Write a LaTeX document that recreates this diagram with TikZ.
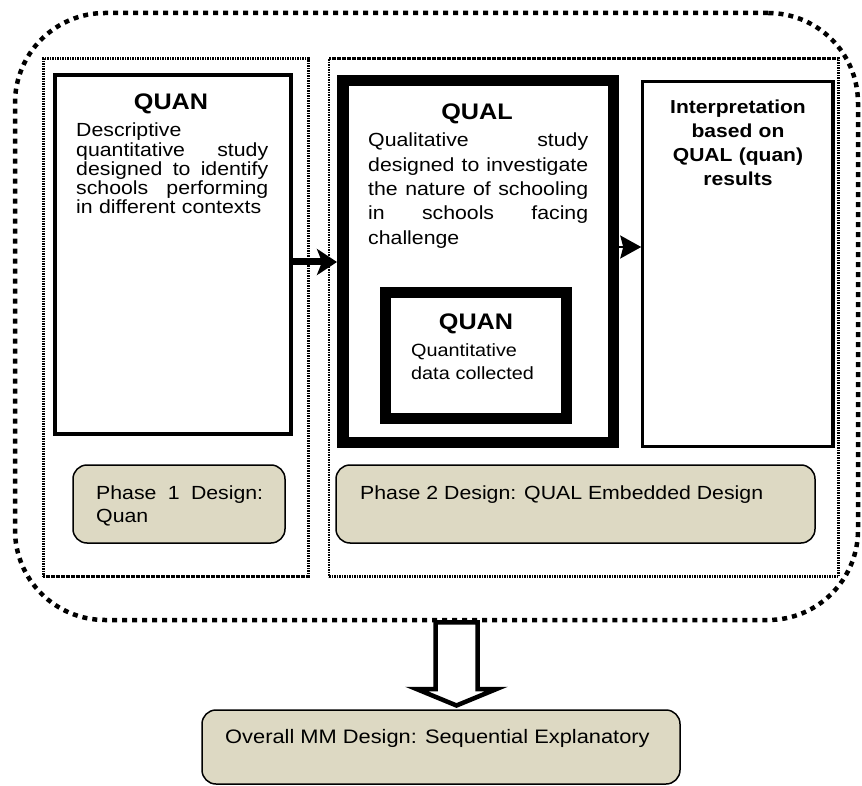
\documentclass[tikz,border=0pt]{standalone}
\usepackage{fontspec}
\setmainfont[FakeStretch=1.12]{Liberation Sans}
\usetikzlibrary{arrows.meta,calc}
\definecolor{beige}{RGB}{221,217,195}
\begin{document}
\begin{tikzpicture}[x=1pt,y=-1pt,
  box/.style={draw, inner sep=0pt, anchor=center},
  outerdots/.style={line width=4.5pt, dash pattern=on 5pt off 5pt},
  finedots/.style={line width=2.6pt, dash pattern=on 1.7pt off 0.8pt},
  designbox/.style={draw, fill=beige, line width=1.5pt, rounded corners=14pt, inner sep=0pt, anchor=center},
  bodytxt/.style={inner sep=0pt, anchor=base west, align=left, font=\fontsize{19}{19.2}\selectfont},
  headtxt/.style={inner sep=0pt, anchor=base, font=\fontsize{22.5}{24}\selectfont\bfseries}
]
\useasboundingbox (0,0) rectangle (862,786);

% outer dotted frame
\node[box, outerdots, rounded corners=90pt, minimum width=843pt, minimum height=607pt] (outer) at (436.5,316.5) {};

% phase frames
\node[box, finedots, minimum width=265pt, minimum height=518pt] (ph1) at (175.8,317.7) {};
\node[box, finedots, minimum width=509.5pt, minimum height=518pt] (ph2) at (583.75,317.7) {};

% content boxes
\node[box, line width=3.5pt, minimum width=236pt, minimum height=359pt] (quanA) at (173,254.5) {};
\node[box, line width=11.5pt, minimum width=270.5pt, minimum height=361.5pt] (qual) at (478,261.5) {};
\node[box, line width=11pt, minimum width=181pt, minimum height=126pt] (quanB) at (476,355.5) {};
\node[box, line width=3.5pt, minimum width=190.5pt, minimum height=365.2pt] (interp) at (737.75,263.9) {};

% design boxes
\node[designbox, minimum width=212pt, minimum height=78pt] (p1d) at (179,504) {};
\node[designbox, minimum width=479pt, minimum height=78pt] (p2d) at (575.5,504) {};
\node[designbox, minimum width=478pt, minimum height=74pt] (overall) at (441,747) {};

% arrows
\draw[line width=7pt, -{Stealth[length=20pt,width=26pt,inset=5pt]}]
  ($(quanA.east)+(0,7.5)$) -- ($(qual.west)+(0,0.5)$);
\draw[line width=2pt, -{Stealth[length=21pt,width=23pt,inset=3pt]}]
  ($(qual.east)+(-8,-14.5)$) -- ($(interp.west)+(0.5,-16.9)$);

\coordinate (ds) at ($(outer.south)+(20,0)$);
\coordinate (dt) at ($(overall.north)+(15.5,-3.75)$);
\draw[line width=4.5pt, fill=white, line join=miter]
  ($(ds)+(-21,0)$) -- ($(ds)+(-21,66.75)$) -- ($(ds)+(-40,66.75)$) -- (dt)
  -- ($(ds)+(40,66.75)$) -- ($(ds)+(21,66.75)$) -- ($(ds)+(21,0)$) -- cycle;

% texts
\node[headtxt] (tqa) at (171,110) {QUAN};
\node[bodytxt, text width=192pt] (tqab) at (76,137)
  {Descriptive\\ quantitative\hfill study\\ designed\hfill to\hfill identify\\ schools\hfill performing\\ in different contexts};

\node[headtxt] (tql) at (477,120) {QUAL};
\node[bodytxt, text width=220pt, font=\fontsize{19}{24.3}\selectfont] (tqlb) at (368,147)
  {Qualitative\hfill study\\ designed\hfill to\hfill investigate\\ the\hfill nature\hfill of\hfill schooling\\ in\hfill schools\hfill facing\\ challenge};

\node[headtxt] (tqb) at (476,330) {QUAN};
\node[bodytxt, text width=150pt, font=\fontsize{17.7}{23}\selectfont] (tqbb) at (411,356)
  {Quantitative\\ data collected};

\node[inner sep=0pt, anchor=base, text width=190pt, align=center, font=\fontsize{18.8}{24}\selectfont\bfseries] (tint) at (738,114)
  {Interpretation\\ based on\\ QUAL (quan)\\ results};

\node[bodytxt, text width=167pt, font=\fontsize{19}{23.5}\selectfont] (tp1) at (96,499)
  {Phase\hfill 1\hfill Design:\\ Quan};
\node[bodytxt] (tp2) at (360,499) {Phase 2 Design: QUAL Embedded Design};
\node[bodytxt, font=\fontsize{19.5}{23}\selectfont] (tov) at (225,743) {Overall MM Design: Sequential Explanatory};
\end{tikzpicture}
\end{document}
